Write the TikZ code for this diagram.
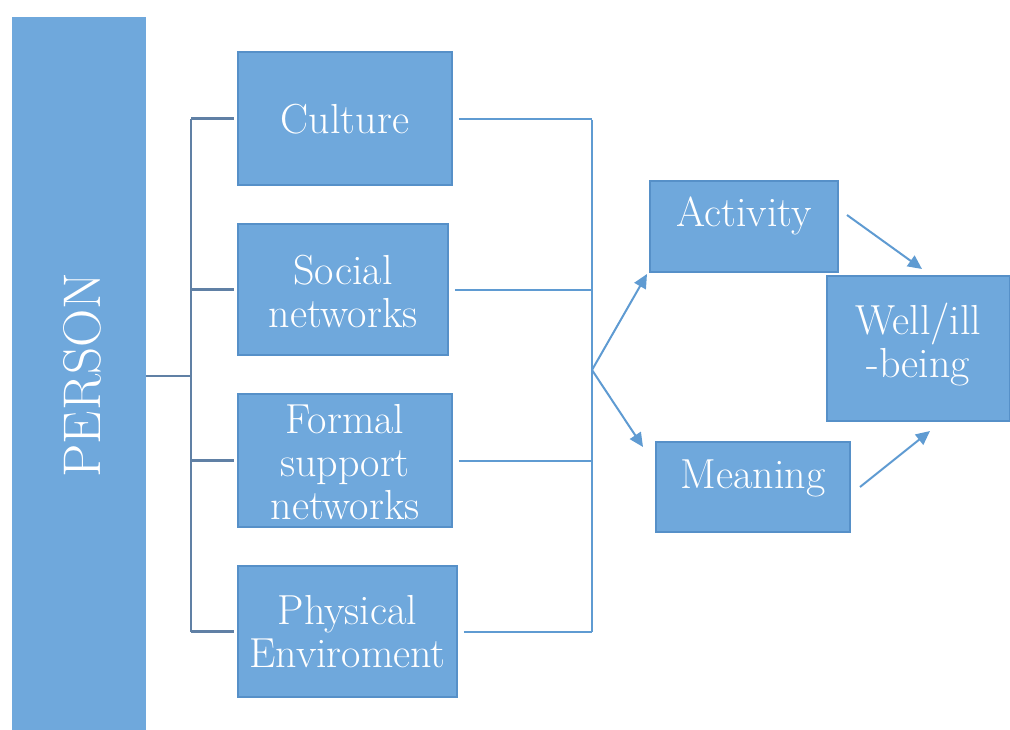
\documentclass[tikz,border=0pt]{standalone}
\usetikzlibrary{arrows.meta,calc}
\definecolor{boxfill}{RGB}{111,168,220}
\definecolor{boxedge}{RGB}{86,144,200}
\definecolor{bracketline}{RGB}{96,128,165}
\definecolor{linkline}{RGB}{95,155,210}
\begin{document}
\begin{tikzpicture}[x=1pt,y=-1pt,
  box/.style={rectangle,fill=boxfill,draw=boxedge,line width=1.5pt,inner sep=0pt},
  boxtext/.style={text=white,align=center,inner sep=0pt,
    font=\fontsize{42}{43}\selectfont},
  bracket/.style={draw=bracketline,line width=2.5pt},
  link/.style={draw=linkline,line width=2pt},
  flow/.style={draw=linkline,line width=2pt,-{Triangle[length=14pt,width=13pt]}}]
\useasboundingbox (0,0) rectangle (1010,729);

% left bar
\node[rectangle,fill=boxfill,inner sep=0pt,minimum width=134pt,minimum height=714pt] (person) at (79,374) {};
\node[rotate=90,text=white,font=\fontsize{53}{56}\selectfont] (personlabel) at (82,375) {PERSON};

% factor boxes
\node[box,minimum width=214pt,minimum height=133pt] (culture) at (345,118.5) {};
\node[box,minimum width=210pt,minimum height=131pt] (social) at (343,289.5) {};
\node[box,minimum width=214pt,minimum height=133pt] (formal) at (345,460.5) {};
\node[box,minimum width=219pt,minimum height=131pt] (physical) at (347.5,631.5) {};
\node[boxtext] (culturetext) at ($(culture)+(0,1)$) {Culture};
\node[boxtext] (socialtext) at ($(social)+(0,2)$) {Social\\networks};
\node[boxtext] (formaltext) at ($(formal)+(0,2)$) {Formal\\support\\networks};
\node[boxtext] (physicaltext) at ($(physical)+(0,0)$) {Physical\\Enviroment};

% outcome boxes
\node[box,minimum width=188pt,minimum height=91pt] (activity) at (744,226.5) {};
\node[box,minimum width=194pt,minimum height=90pt] (meaning) at (753,487) {};
\node[box,minimum width=183pt,minimum height=145pt] (well) at (918.5,348.5) {};
\node[boxtext] (activitytext) at ($(activity)+(0,-11)$) {Activity};
\node[boxtext] (meaningtext) at ($(meaning)+(0,-9)$) {Meaning};
\node[boxtext] (welltext) at ($(well)+(0,-4)$) {Well/ill\\-being};

% junctions
\coordinate (lj) at (191,376);
\coordinate (rj) at (592,370);
\coordinate (acttip) at (647,274);
\coordinate (meantip) at (643,447);
\coordinate (actout) at (847,215);
\coordinate (welltipa) at (922,269);
\coordinate (meanout) at (860,487);
\coordinate (welltipb) at (930,431);

% left bracket
\draw[bracket] (person.east |- lj) -- (lj);
\draw[bracket] (culture.west -| lj) -- (physical.west -| lj);
\foreach \n in {culture,social,formal,physical}
  \draw[bracket,shorten >=3pt] (\n.west -| lj) -- (\n.west);

% right bracket
\foreach \n in {culture,social,formal,physical}
  \draw[link,shorten <=6pt] (\n.east) -- (\n.east -| rj);
\draw[link] ($(culture.east -| rj)+(0,1)$) -- (physical.east -| rj);

% arrows
\draw[flow] (rj) -- (acttip);
\draw[flow] (rj) -- (meantip);
\draw[flow] (actout) -- (welltipa);
\draw[flow] (meanout) -- (welltipb);
\end{tikzpicture}
\end{document}
